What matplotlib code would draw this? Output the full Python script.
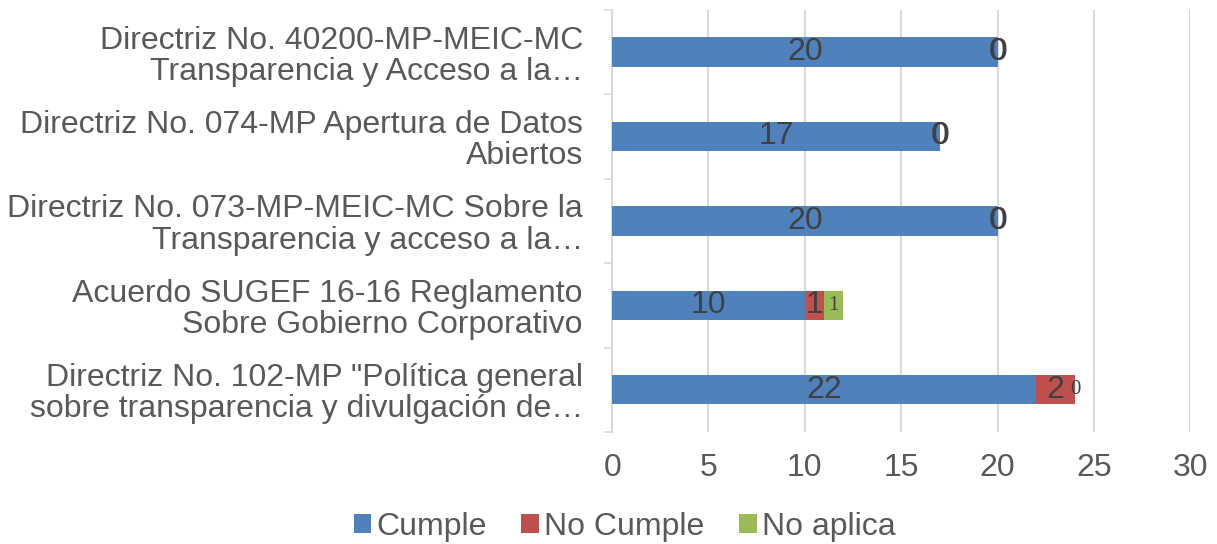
import matplotlib
matplotlib.use("Agg")
import matplotlib.pyplot as plt
import numpy as np

categories = [
    'Directriz No. 102-MP "Política general\nsobre transparencia y divulgación de…',
    'Acuerdo SUGEF 16-16 Reglamento\nSobre Gobierno Corporativo',
    'Directriz No. 073-MP-MEIC-MC Sobre la\nTransparencia y acceso a la…',
    'Directriz No. 074-MP Apertura de Datos\nAbiertos',
    'Directriz No. 40200-MP-MEIC-MC\nTransparencia y Acceso a la…',
]
cumple = [22, 10, 20, 17, 20]
no_cumple = [2, 1, 0, 0, 0]
no_aplica = [0, 1, 0, 0, 0]
series_names = ["Cumple", "No Cumple", "No aplica"]
colors = ["#4f81bd", "#c0504d", "#9bbb59"]
xticks = [0, 5, 10, 15, 20, 25, 30]

FS = 23
plt.rcParams['font.family'] = ['Liberation Sans', 'DejaVu Sans']
fig = plt.figure(figsize=(12.17, 5.44), dpi=100)
ax = fig.add_axes([0.503, 0.206, 0.475, 0.776])

y = np.arange(len(categories))
h = 0.35
left = np.zeros(len(categories))
series = [cumple, no_cumple, no_aplica]
for i, (vals, name, col) in enumerate(zip(series, series_names, colors)):
    vals = np.array(vals, dtype=float)
    ax.barh(y, vals, left=left, height=h, color=col, label=name, zorder=3)
    for j, v in enumerate(vals):
        cx = left[j] + v / 2
        if i == 2:
            small = v > 0 or j == 0
            ax.text(cx + (0.05 if v == 0 else 0), y[j], f"{int(v)}", ha='center', va='center',
                    fontsize=15 if small else FS,
                    family='Liberation Serif' if small else 'Liberation Sans',
                    color='#404040', zorder=5)
        else:
            ax.text(cx, y[j], f"{int(v)}", ha='center', va='center', fontsize=FS,
                    color='#404040', zorder=5)
    left += vals

ax.set_xlim(0, 30)
ax.set_ylim(-0.5, len(categories) - 0.5)
ax.set_xticks(xticks)
ax.set_xticklabels([str(t) for t in xticks])
ax.set_yticks(y)
ax.set_yticklabels(categories, fontsize=FS, color='#595959', ha='right',
                   multialignment='right', linespacing=1.05)
ax.tick_params(axis='x', length=0, pad=15, labelsize=FS, labelcolor='#595959')
ax.tick_params(axis='y', which='major', length=0, pad=21)
ax.set_yticks(np.arange(-0.5, len(categories), 1.0), minor=True)
ax.tick_params(axis='y', which='minor', length=6, color='#d9d9d9', width=1.2)
ax.grid(axis='x', color='#d9d9d9', linewidth=1.5, zorder=0)
for s in ['top', 'right', 'bottom']:
    ax.spines[s].set_visible(False)
ax.spines['left'].set_color('#d9d9d9')
ax.spines['left'].set_linewidth(1.5)

fig.legend(loc='center', bbox_to_anchor=(0.513, 0.031), ncol=3, frameon=False,
           fontsize=FS, labelcolor='#595959', handlelength=0.55, handleheight=0.55,
           handletextpad=0.15, columnspacing=1.1)

fig.savefig("out.png", dpi=100)
